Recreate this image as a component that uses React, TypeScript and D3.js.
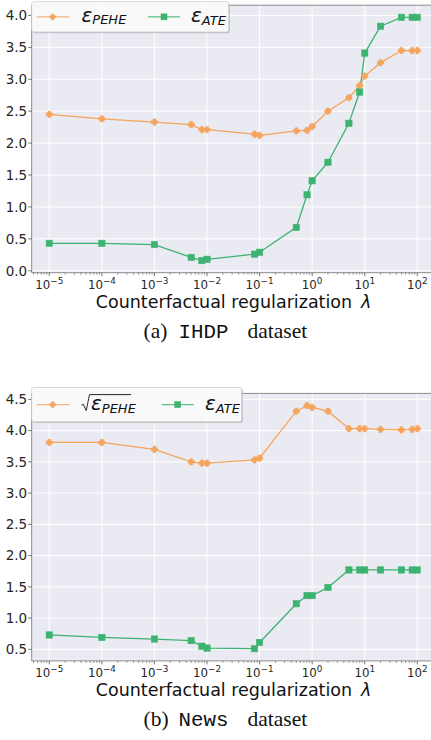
import * as d3 from "d3";

const lambdas = [1e-5, 1e-4, 1e-3, 5e-3, 8e-3, 1e-2, 8e-2, 1e-1, 0.5, 0.8, 1, 2, 5, 8, 10, 20, 50, 80, 100];

const ihdpPehe = [2.45, 2.38, 2.33, 2.29, 2.21, 2.21, 2.14, 2.12, 2.19, 2.2, 2.26, 2.5, 2.71, 2.9, 3.05, 3.26, 3.45, 3.45, 3.45];
const ihdpAte = [0.43, 0.43, 0.41, 0.21, 0.16, 0.18, 0.26, 0.29, 0.68, 1.19, 1.41, 1.7, 2.31, 2.8, 3.41, 3.83, 3.97, 3.97, 3.97];

const newsPehe = [3.81, 3.81, 3.7, 3.5, 3.48, 3.48, 3.53, 3.56, 4.31, 4.4, 4.37, 4.31, 4.03, 4.03, 4.03, 4.02, 4.01, 4.02, 4.03];
const newsAte = [0.73, 0.69, 0.665, 0.64, 0.55, 0.52, 0.51, 0.61, 1.23, 1.36, 1.36, 1.49, 1.77, 1.77, 1.77, 1.77, 1.77, 1.77, 1.77];

const ihdpTicks = [0, 0.5, 1, 1.5, 2, 2.5, 3, 3.5, 4];
const newsTicks = [0.5, 1, 1.5, 2, 2.5, 3, 3.5, 4, 4.5];
const xTicks = [1e-5, 1e-4, 1e-3, 1e-2, 1e-1, 1, 10, 100];

const ORANGE = "#f5a45c";
const GREEN = "#3cb371";
const BG = "#eaeaf2";
const SANS = "DejaVu Sans";

const W = 431;
const PLOT_LEFT = 31.7;
const PLOT_H = 267.5;

const x = d3.scaleLog().domain([1e-5, 100]).range([49.3, 417.3]);

const sup = (v: number) => {
  const e = Math.round(Math.log10(v));
  return e < 0 ? `\u2212${-e}` : `${e}`;
};

const PlusMarker = ({ cx, cy, s = 3.1, t = 1.4 }: { cx: number; cy: number; s?: number; t?: number }) => (
  <path
    d={`M${cx - t},${cy - s}H${cx + t}V${cy - t}H${cx + s}V${cy + t}H${cx + t}V${cy + s}H${cx - t}V${cy + t}H${cx - s}V${cy - t}H${cx - t}Z`}
    fill={ORANGE}
    stroke={ORANGE}
    strokeWidth={0.6}
  />
);

const SquareMarker = ({ cx, cy, s = 3.2 }: { cx: number; cy: number; s?: number }) => (
  <rect x={cx - s} y={cy - s} width={2 * s} height={2 * s} fill={GREEN} stroke={GREEN} strokeWidth={0.5} />
);

type PanelProps = {
  top: number;
  yMin: number;
  yMax: number;
  ticks: number[];
  pehe: number[];
  ate: number[];
  sqrtLegend: boolean;
  letter: string;
  dataset: string;
};

const Panel = ({ top, yMin, yMax, ticks, pehe, ate, sqrtLegend, letter, dataset }: PanelProps) => {
  const plotTop = top;
  const plotBottom = top + PLOT_H;
  const y = d3.scaleLinear().domain([yMin, yMax]).range([plotBottom, plotTop]);
  const line = d3
    .line<number>()
    .x((_, i) => x(lambdas[i]))
    .y((d) => y(d));

  const minor: number[] = [];
  for (let e = -6; e <= 2; e++) {
    for (let k = 2; k <= 9; k++) {
      const v = k * 10 ** e;
      if (x(v) >= PLOT_LEFT && x(v) <= W) minor.push(v);
    }
  }

  const legTop = sqrtLegend ? top - 6 : top - 3.5;
  const legH = sqrtLegend ? 34.4 : 30.3;
  const legW = sqrtLegend ? 210 : 197;
  const legY = legTop + legH / 2;
  const gx1 = sqrtLegend ? 161.7 : 148;
  const gText = sqrtLegend ? 205 : 191;

  const clipId = `clip-${letter}`;

  return (
    <g>
      <defs>
        <clipPath id={clipId}>
          <rect x={PLOT_LEFT} y={plotTop} width={W - PLOT_LEFT} height={PLOT_H} />
        </clipPath>
      </defs>
      <rect x={PLOT_LEFT} y={plotTop} width={W - PLOT_LEFT} height={PLOT_H} fill={BG} />
      {xTicks.map((t) => (
        <line key={t} x1={x(t)} x2={x(t)} y1={plotTop} y2={plotBottom} stroke="#fff" strokeWidth={1} />
      ))}
      {ticks.map((t) => (
        <line key={t} x1={PLOT_LEFT} x2={W} y1={y(t)} y2={y(t)} stroke="#fff" strokeWidth={1} />
      ))}
      <g clipPath={`url(#${clipId})`}>
        <path d={line(pehe) ?? undefined} fill="none" stroke={ORANGE} strokeWidth={1.3} />
        <path d={line(ate) ?? undefined} fill="none" stroke={GREEN} strokeWidth={1.3} />
        {pehe.map((v, i) => (
          <PlusMarker key={i} cx={x(lambdas[i])} cy={y(v)} />
        ))}
        {ate.map((v, i) => (
          <SquareMarker key={i} cx={x(lambdas[i])} cy={y(v)} />
        ))}
      </g>
      {/* spines */}
      <line x1={PLOT_LEFT} x2={PLOT_LEFT} y1={plotTop} y2={plotBottom} stroke="#8c8c8c" strokeWidth={1} />
      <line x1={PLOT_LEFT} x2={W} y1={plotBottom} y2={plotBottom} stroke="#8c8c8c" strokeWidth={1} />
      <line x1={PLOT_LEFT} x2={W} y1={plotTop} y2={plotTop} stroke="#8c8c8c" strokeWidth={1} />
      {/* y ticks */}
      {ticks.map((t) => (
        <g key={t}>
          <line x1={PLOT_LEFT - 3.5} x2={PLOT_LEFT} y1={y(t)} y2={y(t)} stroke="#555" strokeWidth={0.8} />
          <text x={PLOT_LEFT - 4.5} y={y(t)} dy="0.36em" textAnchor="end" fontFamily={SANS} fontSize={13.5} fill="#262626">
            {t.toFixed(1)}
          </text>
        </g>
      ))}
      {/* x ticks */}
      {minor.map((t) => (
        <line key={t} x1={x(t)} x2={x(t)} y1={plotBottom} y2={plotBottom + 2} stroke="#555" strokeWidth={0.6} />
      ))}
      {xTicks.map((t) => (
        <g key={t}>
          <line x1={x(t)} x2={x(t)} y1={plotBottom} y2={plotBottom + 3.5} stroke="#555" strokeWidth={0.8} />
          <text x={x(t)} y={plotBottom + 16} textAnchor="middle" fontFamily={SANS} fontSize={11.8} fill="#262626">
            10
            <tspan fontSize={8.8} dy={-5}>
              {sup(t)}
            </tspan>
          </text>
        </g>
      ))}
      <text x={233.5} y={plotBottom + 35} textAnchor="middle" fontFamily={SANS} fontSize={17.5} fill="#111">
        Counterfactual regularization{"\u2002"}
        <tspan fontStyle="italic">λ</tspan>
      </text>
      <text y={plotBottom + 65} fontFamily="Liberation Serif" fontSize={21.5} fill="#111">
        <tspan x={143.5}>({letter})</tspan>
        <tspan x={178.5} fontFamily="Liberation Mono" fontSize={20.8}>
          {dataset}
        </tspan>
        <tspan x={247.5}>dataset</tspan>
      </text>
      {/* legend */}
      <rect x={PLOT_LEFT + 1.2} y={legTop + 1.2} width={legW} height={legH} rx={2.5} fill="#999" opacity={0.5} />
      <rect x={PLOT_LEFT} y={legTop} width={legW} height={legH} rx={2.5} fill="#fff" fillOpacity={0.9} stroke="#ccc" strokeWidth={0.8} />
      <line x1={36.7} x2={69.3} y1={legY} y2={legY} stroke={ORANGE} strokeWidth={1.3} opacity={0.8} />
      <PlusMarker cx={52.7} cy={legY} s={2.8} t={1.2} />
      <line x1={gx1} x2={gx1 + 32} y1={legY} y2={legY} stroke={GREEN} strokeWidth={1.3} opacity={0.8} />
      <SquareMarker cx={gx1 + 16} cy={legY} s={3} />
      {sqrtLegend ? (
        <g>
          <path
            d={`M81.5,${legY + 0.5}L83.3,${legY - 0.3}L86.2,${legY + 6}L89.5,${legY - 10}H131`}
            fill="none"
            stroke="#111"
            strokeWidth={0.9}
          />
          <text x={91} y={legY + 5.5} fontFamily={SANS} fontSize={20} fontStyle="italic" fill="#111">
            ε
            <tspan fontSize={13} dy={2.5}>
              PEHE
            </tspan>
          </text>
        </g>
      ) : (
        <text x={81.5} y={legY + 5} fontFamily={SANS} fontSize={20} fontStyle="italic" fill="#111">
          ε
          <tspan fontSize={13} dy={2.5}>
            PEHE
          </tspan>
        </text>
      )}
      <text x={gText} y={legY + 5.5} fontFamily={SANS} fontSize={20} fontStyle="italic" fill="#111">
        ε
        <tspan fontSize={13} dy={2.5}>
          ATE
        </tspan>
      </text>
    </g>
  );
};

export default function App() {
  return (
    <svg
      width={W}
      height={740}
      viewBox={`0 0 ${W} 740`}
      style={{ position: "absolute", left: 0, top: 0, background: "#fff" }}
    >
      <Panel top={5.2} yMin={-0.03} yMax={4.16} ticks={ihdpTicks} pehe={ihdpPehe} ate={ihdpAte} sqrtLegend={false} letter="a" dataset="IHDP" />
      <Panel top={393.4} yMin={0.315} yMax={4.595} ticks={newsTicks} pehe={newsPehe} ate={newsAte} sqrtLegend={true} letter="b" dataset="News" />
    </svg>
  );
}
